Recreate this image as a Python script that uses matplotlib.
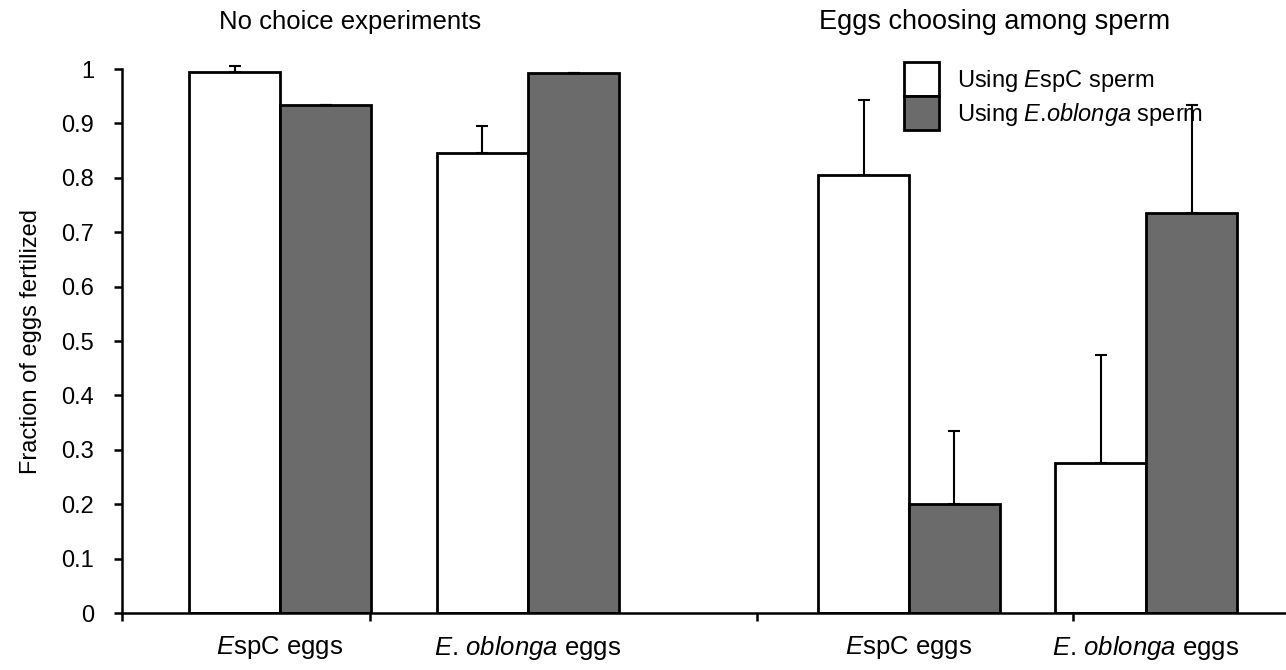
"""Fertilization fractions: no-choice vs. egg-choice experiments."""

import matplotlib

matplotlib.use("Agg")
import matplotlib.pyplot as plt  # noqa: E402
from matplotlib.transforms import blended_transform_factory  # noqa: E402

plt.rcParams["font.family"] = ["Liberation Sans", "DejaVu Sans"]
plt.rcParams["mathtext.fontset"] = "custom"
plt.rcParams["mathtext.rm"] = "Liberation Sans"
plt.rcParams["mathtext.it"] = "Liberation Sans:italic"

# data
egg_labels = [r"$\mathit{E}$spC eggs", r"$\mathit{E}$. $\mathit{oblonga}$ eggs",
              r"$\mathit{E}$spC eggs", r"$\mathit{E}$. $\mathit{oblonga}$ eggs"]
panel_titles = ["No choice experiments", "Eggs choosing among sperm"]
series_labels = [r"Using $\mathit{E}$spC sperm", r"Using $\mathit{E}$.$\mathit{oblonga}$ sperm"]
espc_sperm = [0.994, 0.845, 0.806, 0.275]
espc_err = [0.012, 0.050, 0.137, 0.199]
oblonga_sperm = [0.934, 0.993, 0.200, 0.736]
oblonga_err = [0.0, 0.0, 0.135, 0.198]
yticks = [0, 0.1, 0.2, 0.3, 0.4, 0.5, 0.6, 0.7, 0.8, 0.9, 1]

# layout (x in units of 100 px from the y axis)
group_x = [1.58, 4.06, 7.87, 10.24]
tick_x = [0, 2.48, 6.35, 9.51]
bar_w = 0.91
gray = "#6b6b6b"

W, H = 1286, 670
fig = plt.figure(figsize=(W / 100, H / 100), dpi=100)
ax = fig.add_axes([122 / W, 1 - 613 / H, 1 - 122 / W, (613 - 69) / H])

err_kw = dict(ecolor="black", elinewidth=1.5, capsize=4.5, capthick=1.5)
left = [g - bar_w / 2 for g in group_x]
right = [g + bar_w / 2 for g in group_x]
b1 = ax.bar(left, espc_sperm, bar_w, color="white", edgecolor="black", linewidth=2,
            yerr=[[0] * 4, espc_err], error_kw=err_kw, label=series_labels[0], zorder=2)
b2 = ax.bar(right, oblonga_sperm, bar_w, color=gray, edgecolor="black", linewidth=2,
            yerr=[[0] * 4, oblonga_err], error_kw=err_kw, label=series_labels[1], zorder=2)
for cont in (b1, b2):
    _, caps, cols = cont.errorbar.lines
    for art in list(caps) + list(cols):
        art.set_clip_on(False)

ax.set_xlim(0, 11.64)
ax.set_ylim(0, 1)
ax.set_yticks(yticks)
ax.set_yticklabels([f"{v:g}" for v in yticks])
ax.set_xticks(tick_x)
ax.set_xticklabels([])
for s in ("top", "right"):
    ax.spines[s].set_visible(False)
for s in ("left", "bottom"):
    ax.spines[s].set_linewidth(1.8)
ax.tick_params(axis="y", direction="out", length=6, width=1.8, labelsize=17, pad=14)
ax.tick_params(axis="x", direction="out", length=6, width=1.8)
ax.set_ylabel("Fraction of eggs fertilized", fontsize=17, labelpad=14)

trans = blended_transform_factory(ax.transData, ax.transAxes)
for x, lab in zip(group_x, egg_labels):
    ax.text(x, -0.064, lab, transform=trans, ha="center", va="center", fontsize=18.5)

fig.text(350 / W, 1 - 22 / H, panel_titles[0], ha="center", va="center", fontsize=18.5)
fig.text(995 / W, 1 - 22 / H, panel_titles[1], ha="center", va="center", fontsize=19.5)

ax.legend(loc="upper left", bbox_to_anchor=(904 / W, 1 - 62 / H),
          bbox_transform=fig.transFigure, frameon=False, fontsize=17,
          labelspacing=0, handleheight=1.84, handlelength=1.48,
          handletextpad=0.76, borderpad=0, borderaxespad=0)

fig.savefig("out.png", dpi=100)
